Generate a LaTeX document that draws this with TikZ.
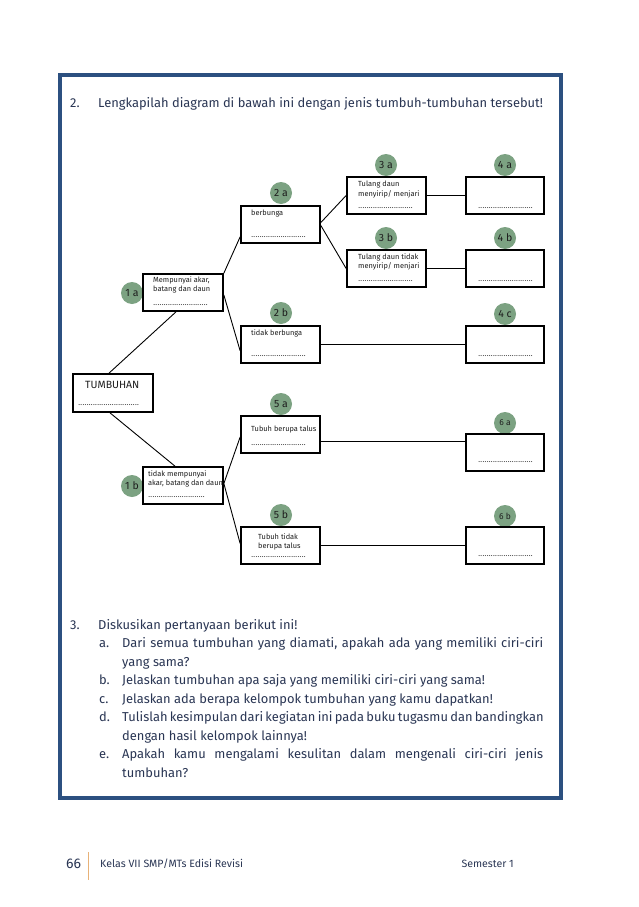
\documentclass[tikz,border=0pt]{standalone}
\usepackage{fontspec}
\setmainfont{Fira Sans}
\definecolor{framecol}{RGB}{44,80,128}
\definecolor{txtcol}{RGB}{42,54,84}
\definecolor{circcol}{RGB}{124,162,130}
\definecolor{boxtxt}{RGB}{30,30,30}
\definecolor{barcol}{RGB}{232,178,120}
\newcommand\mydotline[1]{\hbox to #1{\leaders\hbox to 2.1pt{\hss.\hss}\hfill}}
\tikzset{
  boxnode/.style={draw=black, line width=1.7pt, fill=white, rectangle, minimum width=79pt, minimum height=37pt, inner sep=0pt},
  badge/.style={circle, fill=circcol, minimum size=22pt, inner sep=0pt, font=\fontsize{10.5}{11}\selectfont, text=boxtxt},
  smallbadge/.style={badge, font=\fontsize{8.5}{9}\selectfont},
  conn/.style={draw=black, line width=0.9pt},
  btxt/.style={anchor=base west, inner sep=0pt, font=\fontsize{7.4}{9}\selectfont, text=boxtxt},
  body/.style={anchor=base west, inner sep=0pt, font=\fontsize{12.9}{15}\selectfont, text=txtcol},
  foot/.style={anchor=base west, inner sep=0pt, font=\fontsize{10.6}{12}\selectfont, text=txtcol}
}
\begin{document}
\begin{tikzpicture}[x=1pt,y=-1pt]
\useasboundingbox (0,0) rectangle (638,907);
\fill[white] (0,0) rectangle (638,907);
% frame
\draw[framecol, line width=4.5pt] (60,75) rectangle (561,798);
% title
\node[body] (t2n) at (70,107) {2.};
\node[body] (t2) at (98,107) {Lengkapilah diagram di bawah ini dengan jenis tumbuh-tumbuhan tersebut!};
% badges
\node[badge] (c1a) at (132,293) {1 a};
\node[badge] (c1b) at (132,486) {1 b};
\node[badge] (c2a) at (281,193) {2 a};
\node[badge] (c2b) at (281,313) {2 b};
\node[badge] (c3a) at (386,165) {3 a};
\node[badge] (c3b) at (386,238) {3 b};
\node[badge] (c4a) at (505,165) {4 a};
\node[badge] (c4b) at (505,238) {4 b};
\node[badge] (c4c) at (505,314) {4 c};
\node[badge] (c5a) at (281,404) {5 a};
\node[badge] (c5b) at (281,515) {5 b};
\node[smallbadge] (c6a) at (505,423) {6 a};
\node[smallbadge] (c6b) at (505,516) {6 b};
% boxes
\node[boxnode, minimum width=80pt, minimum height=38pt] (tum) at (113,393) {};
\node[boxnode, minimum width=80pt] (n1a) at (183,292.5) {};
\node[boxnode, minimum width=80pt] (n1b) at (183,485.5) {};
\node[boxnode] (n2a) at (280.5,224.5) {};
\node[boxnode] (n2b) at (280.5,344.5) {};
\node[boxnode] (n5a) at (280.5,434.5) {};
\node[boxnode] (n5b) at (280.5,545.5) {};
\node[boxnode] (n3a) at (386.5,195.5) {};
\node[boxnode] (n3b) at (386.5,268.5) {};
\node[boxnode, minimum width=78pt] (n4a) at (505,195.5) {};
\node[boxnode, minimum width=78pt] (n4b) at (505,268.5) {};
\node[boxnode, minimum width=78pt] (n4c) at (505,344.5) {};
\node[boxnode, minimum width=78pt] (n6a) at (505,452.5) {};
\node[boxnode, minimum width=78pt] (n6b) at (505,545.5) {};
% connectors
\draw[conn] ([xshift=-4pt]tum.north) -- ([xshift=-7pt]n1a.south);
\draw[conn] ([xshift=-3pt]tum.south) -- ([xshift=-8pt]n1b.north);
\draw[conn] (n1a.north east) -- ([yshift=7pt]n2a.south west);
\draw[conn] ([yshift=-2.5pt]n1a.east) -- ([yshift=13pt]n2b.south west);
\draw[conn] ([yshift=2pt]n2a.east) -- (n3a.west);
\draw[conn] ([yshift=-1pt]n2a.east) -- (n3b.west);
\draw[conn] (n3a.east) -- (n4a.west);
\draw[conn] (n3b.east) -- (n4b.west);
\draw[conn] (n2b.east) -- (n4c.west);
\draw[conn] ([yshift=2pt]n1b.east) -- ([yshift=-2.5pt]n5a.west);
\draw[conn] ([yshift=2pt]n1b.east) -- ([yshift=2pt]n5b.west);
\draw[conn] ([yshift=-6.5pt]n5a.east) -- ([yshift=11.5pt]n6a.west);
\draw[conn] (n5b.east) -- (n6b.west);
% box texts
\node[btxt, font=\fontsize{10.5}{12}\selectfont] (tumt) at (85,388) {TUMBUHAN};
\node[btxt] (tumd) at (78,405) {\mydotline{63pt}};
\node[btxt] (t1a1) at (153,282.5) {Mempunyai akar,};
\node[btxt] (t1a2) at (153,291.5) {batang dan daun};
\node[btxt] (t1ad) at (153,305) {\mydotline{55pt}};
\node[btxt] (t1b1) at (148,476.5) {tidak mempunyai};
\node[btxt] (t1b2) at (148,485.5) {akar, batang dan daun};
\node[btxt] (t1bd) at (148,497) {\mydotline{57pt}};
\node[btxt] (t2a1) at (251,215.5) {berbunga};
\node[btxt] (t2ad) at (251,237) {\mydotline{55pt}};
\node[btxt] (t2b1) at (251,335.5) {tidak berbunga};
\node[btxt] (t2bd) at (251,356) {\mydotline{55pt}};
\node[btxt] (t3a1) at (358,186.5) {Tulang daun};
\node[btxt] (t3a2) at (358,196.5) {menyirip/ menjari};
\node[btxt] (t3ad) at (358,208) {\mydotline{55pt}};
\node[btxt] (t3b1) at (358,259.5) {Tulang daun tidak};
\node[btxt] (t3b2) at (358,268.5) {menyirip/ menjari};
\node[btxt] (t3bd) at (358,281) {\mydotline{55pt}};
\node[btxt] (t4ad) at (478,208) {\mydotline{55pt}};
\node[btxt] (t4bd) at (478,281) {\mydotline{55pt}};
\node[btxt] (t4cd) at (478,356) {\mydotline{55pt}};
\node[btxt] (t5a1) at (251,431.5) {Tubuh berupa talus};
\node[btxt] (t5ad) at (251,445) {\mydotline{55pt}};
\node[btxt] (t5b1) at (258,539.5) {Tubuh tidak};
\node[btxt] (t5b2) at (258,548.5) {berupa talus};
\node[btxt] (t5bd) at (251,557) {\mydotline{55pt}};
\node[btxt] (t6ad) at (478,462) {\mydotline{55pt}};
\node[btxt] (t6bd) at (478,556) {\mydotline{55pt}};
% questions
\node[body] (q3n) at (70,629) {3.};
\node[body] (q3) at (98,629) {Diskusikan pertanyaan berikut ini!};
\node[body] (qan) at (99,647.5) {a.};
\node[body] (qa1) at (122,647.5) {\makebox[421pt][s]{Dari semua tumbuhan yang diamati, apakah ada yang memiliki ciri-ciri}};
\node[body] (qa2) at (122,666) {yang sama?};
\node[body] (qbn) at (99,684.5) {b.};
\node[body] (qb1) at (122,684.5) {Jelaskan tumbuhan apa saja yang memiliki ciri-ciri yang sama!};
\node[body] (qcn) at (99,703) {c.};
\node[body] (qc1) at (122,703) {Jelaskan ada berapa kelompok tumbuhan yang kamu dapatkan!};
\node[body] (qdn) at (99,721.5) {d.};
\node[body] (qd1) at (122,721.5) {\makebox[421pt][s]{Tulislah kesimpulan dari kegiatan ini pada buku tugasmu dan bandingkan}};
\node[body] (qd2) at (122,740) {dengan hasil kelompok lainnya!};
\node[body] (qen) at (99,758.5) {e.};
\node[body] (qe1) at (122,758.5) {\makebox[421pt][s]{Apakah kamu mengalami kesulitan dalam mengenali ciri-ciri jenis}};
\node[body] (qe2) at (122,777) {tumbuhan?};
% footer
\node[foot, font=\fontsize{14}{16}\selectfont] (pg) at (66,868) {66};
\draw[barcol, line width=1pt] (88,852) -- (88,880);
\node[foot] (ft1) at (100,867) {Kelas VII SMP/MTs Edisi Revisi};
\node[foot, anchor=base east] (ft2) at (514,867) {Semester 1};
\end{tikzpicture}
\end{document}
